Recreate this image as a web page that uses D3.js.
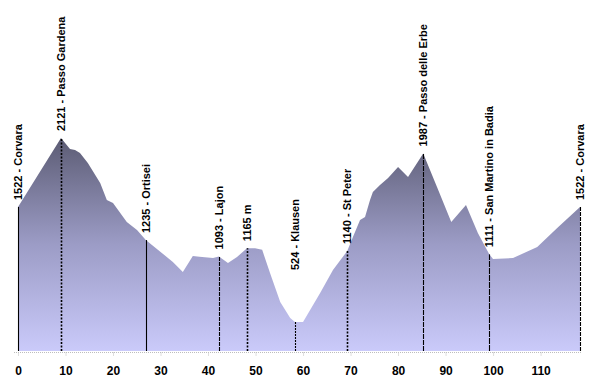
<!DOCTYPE html>
<html>
<head>
<meta charset="utf-8">
<script src="https://cdn.jsdelivr.net/npm/d3@7"></script>
<style>
  html, body { margin: 0; padding: 0; background: #ffffff; }
  svg { display: block; }
  text { font-family: "Liberation Sans", Arial, sans-serif; font-weight: bold; fill: #000; }
</style>
</head>
<body>
<svg id="chart" width="600" height="380"></svg>
<script>
// ---- data ----
const profileKm   = [0, 9.05, 10.95, 12.0, 13.05, 14.7, 17.3, 18.7, 20.0, 22.9, 25.05, 26.9, 29.5, 32.6, 34.7, 36.8, 38.2, 41.05, 42.3, 44.2, 46.1, 48.2, 49.9, 51.4, 53.05, 55.2, 57.3, 58.3, 60.0, 63.6, 66.3, 69.3, 70.5, 72.0, 73.05, 74.1, 74.7, 76.2, 77.9, 80.0, 82.1, 85.3, 88.2, 91.2, 94.3, 96.8, 99.2, 100.0, 104.2, 109.3, 113.5, 118.3];
const profileElev = [1522, 2121, 2025, 2017, 1991, 1904, 1730, 1583, 1557, 1392, 1322, 1235, 1149, 1045, 958, 1097, 1090, 1079, 1093, 1036, 1088, 1165, 1165, 1150, 949, 697, 558, 524, 524, 775, 975, 1140, 1262, 1409, 1435, 1583, 1653, 1713, 1774, 1869, 1782, 1987, 1696, 1392, 1539, 1296, 1111, 1071, 1079, 1175, 1340, 1522];

const markerKm     = [0, 9.05, 26.9, 42.3, 48.2, 58.3, 69.3, 85.3, 99.2, 118.3];
const markerElev   = [1522, 2121, 1235, 1093, 1165, 524, 1140, 1987, 1111, 1522];
const markerLabels = ["1522 - Corvara", "2121 - Passo Gardena", "1235 - Ortisei", "1093 - Lajon", "1165 m", "524 - Klausen", "1140 - St Peter", "1987 - Passo delle Erbe", "1111 - San Martino in Badia", "1522 - Corvara"];

const xTicks = [0, 10, 20, 30, 40, 50, 60, 70, 80, 90, 100, 110];

// ---- scales ----
const svg = d3.select("#chart");
const x = d3.scaleLinear().domain([0, 118.3]).range([18, 580]);
const y = d3.scaleLinear().domain([272, 2121]).range([351, 138]);
const baseElev = 272;

// gradient
const defs = svg.append("defs");
const grad = defs.append("linearGradient")
  .attr("id", "areaGrad").attr("gradientUnits", "userSpaceOnUse")
  .attr("x1", 0).attr("x2", 0).attr("y1", y(2121)).attr("y2", y(baseElev));
grad.append("stop").attr("offset", 0).attr("stop-color", "#5c5c74");
grad.append("stop").attr("offset", 0.5).attr("stop-color", "#9c9cc6");
grad.append("stop").attr("offset", 1).attr("stop-color", "#cacafa");

const profile = profileKm.map((k, i) => ({ km: k, e: profileElev[i] }));

// area
const area = d3.area().x(d => x(d.km)).y0(y(baseElev)).y1(d => y(d.e));
svg.append("path").datum(profile).attr("d", area).attr("fill", "url(#areaGrad)");

// axis (dotted baseline + ticks)
const axisY = 352.5;
const axis = d3.axisBottom(x).tickValues(xTicks).tickSize(4).tickPadding(10).tickFormat(d3.format("d"));
const gAxis = svg.append("g").attr("transform", `translate(0,${axisY})`).call(axis);
gAxis.select(".domain").attr("stroke", "#bdbdbd").attr("stroke-dasharray", "1,1").attr("d", `M${x(0) - 4},0H${x(118.3) + 2}`);
gAxis.selectAll(".tick line").attr("stroke", "#bdbdbd").attr("stroke-dasharray", "1,1");
gAxis.selectAll(".tick text").attr("font-size", 12).attr("font-family", "Liberation Sans Narrow, Liberation Sans, Arial, sans-serif").attr("font-weight", "bold").attr("fill", "#000");

// marker lines
const dashes = [null, "2,1.5", null, "4,1", "2,1.5", "2,1", "2,1.5", "5,1", "6,1", "4,1"];
const markers = markerKm.map((k, i) => ({ km: k, e: markerElev[i], label: markerLabels[i], dash: dashes[i] }));

svg.append("g").selectAll("line").data(markers).join("line")
  .attr("x1", d => Math.round(x(d.km)) + 0.5).attr("x2", d => Math.round(x(d.km)) + 0.5)
  .attr("y1", y(baseElev)).attr("y2", d => y(d.e))
  .attr("stroke", "#000").attr("stroke-width", d => d.dash === "2,1.5" ? 1.6 : 1.1)
  .attr("stroke-dasharray", d => d.dash);

// labels (vertical, reading bottom to top)
const labelMaxBottom = 270;
svg.append("g").selectAll("text").data(markers).join("text")
  .attr("transform", d => {
    const bx = x(d.km) + 4;
    const by = Math.min(y(d.e) - 7, labelMaxBottom);
    return `translate(${bx},${by}) rotate(-90)`;
  })
  .attr("font-size", 11)
  .text(d => d.label);
</script>
</body>
</html>
